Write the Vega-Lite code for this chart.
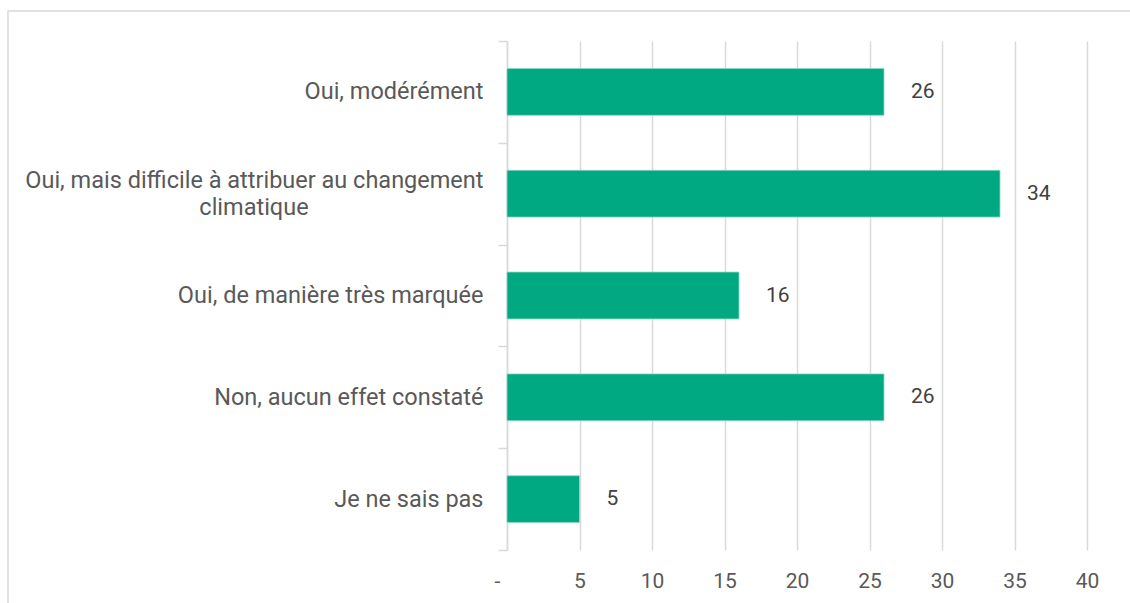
{
  "$schema": "https://vega.github.io/schema/vega-lite/v6.json",
  "autosize": "none",
  "width": 1122,
  "height": 592,
  "padding": {"left": 8, "top": 11, "right": 0, "bottom": 0},
  "background": "white",
  "config": {
    "font": "Roboto",
    "view": {"stroke": "#d9d9d9", "strokeWidth": 1.5, "strokeDash": [1122, 1714, 592]},
    "axis": {"labelFont": "Roboto", "labelColor": "#595959", "labelFontSize": 21}
  },
  "data": {
    "values": [
      {"categorie": "Oui, modérément", "valeur": 26},
      {"categorie": "Oui, mais difficile à attribuer au changement climatique", "valeur": 34},
      {"categorie": "Oui, de manière très marquée", "valeur": 16},
      {"categorie": "Non, aucun effet constaté", "valeur": 26},
      {"categorie": "Je ne sais pas", "valeur": 5}
    ]
  },
  "encoding": {
    "y": {
      "field": "categorie",
      "type": "nominal",
      "sort": null,
      "scale": {"paddingInner": 0, "paddingOuter": 0, "range": [30, 539]},
      "axis": {
        "title": null,
        "offset": -499,
        "tickBand": "extent",
        "ticks": true,
        "tickSize": 9,
        "tickColor": "#d9d9d9",
        "tickWidth": 1.5,
        "domainColor": "#d9d9d9",
        "domainWidth": 1.5,
        "grid": false,
        "labelPadding": 15,
        "labelAlign": "right",
        "labelFontSize": 23.5,
        "labelLineHeight": 27,
        "labelLimit": 600,
        "labelOffset": {"condition": {"test": "datum.value == 'Oui, mais difficile à attribuer au changement climatique'", "value": -13}, "value": 0},
        "labelExpr": "datum.value == 'Oui, mais difficile à attribuer au changement climatique' ? ['Oui, mais difficile à attribuer au changement', 'climatique\u00a0\u00a0\u00a0\u00a0\u00a0\u00a0\u00a0\u00a0\u00a0\u00a0\u00a0\u00a0\u00a0\u00a0\u00a0\u00a0\u00a0\u00a0\u00a0\u00a0\u00a0\u00a0\u00a0\u00a0\u00a0\u00a0\u00a0\u00a0\u00a0\u00a0\u200b'] : datum.label"
      }
    }
  },
  "layer": [
    {
      "mark": {"type": "bar", "color": "#00A982", "height": {"band": 0.46}, "stroke": "#8fd9c2", "strokeWidth": 0.8},
      "encoding": {
        "x": {
          "field": "valeur",
          "type": "quantitative",
          "scale": {"domain": [0, 40], "nice": false, "range": [499, 1079]},
          "axis": {
            "title": null,
            "orient": "top",
            "values": [0, 5, 10, 15, 20, 25, 30, 35, 40],
            "labels": false,
            "domain": false,
            "ticks": false,
            "grid": true,
            "gridColor": "#d9d9d9",
            "gridWidth": 1.5,
            "zindex": 0
          }
        }
      }
    },
    {
      "mark": {"type": "text", "align": "left", "baseline": "middle", "dx": 27, "fontSize": 21, "color": "#404040", "font": "Roboto"},
      "encoding": {
        "x": {
          "field": "valeur",
          "type": "quantitative",
          "scale": {"domain": [0, 40], "nice": false, "range": [499, 1079]},
          "axis": {
            "title": null,
            "orient": "bottom",
            "offset": -53,
            "values": [0, 5, 10, 15, 20, 25, 30, 35, 40],
            "labelExpr": "datum.value == 0 ? '-' : datum.label",
            "labelFlush": false,
            "labelOffset": {"condition": {"test": "datum.value == 0", "value": -10}, "value": 0},
            "domain": false,
            "ticks": false,
            "grid": false,
            "labelPadding": 20,
            "labelBaseline": "top"
          }
        },
        "text": {"field": "valeur", "type": "quantitative"}
      }
    }
  ],
  "resolve": {"axis": {"x": "independent"}}
}
